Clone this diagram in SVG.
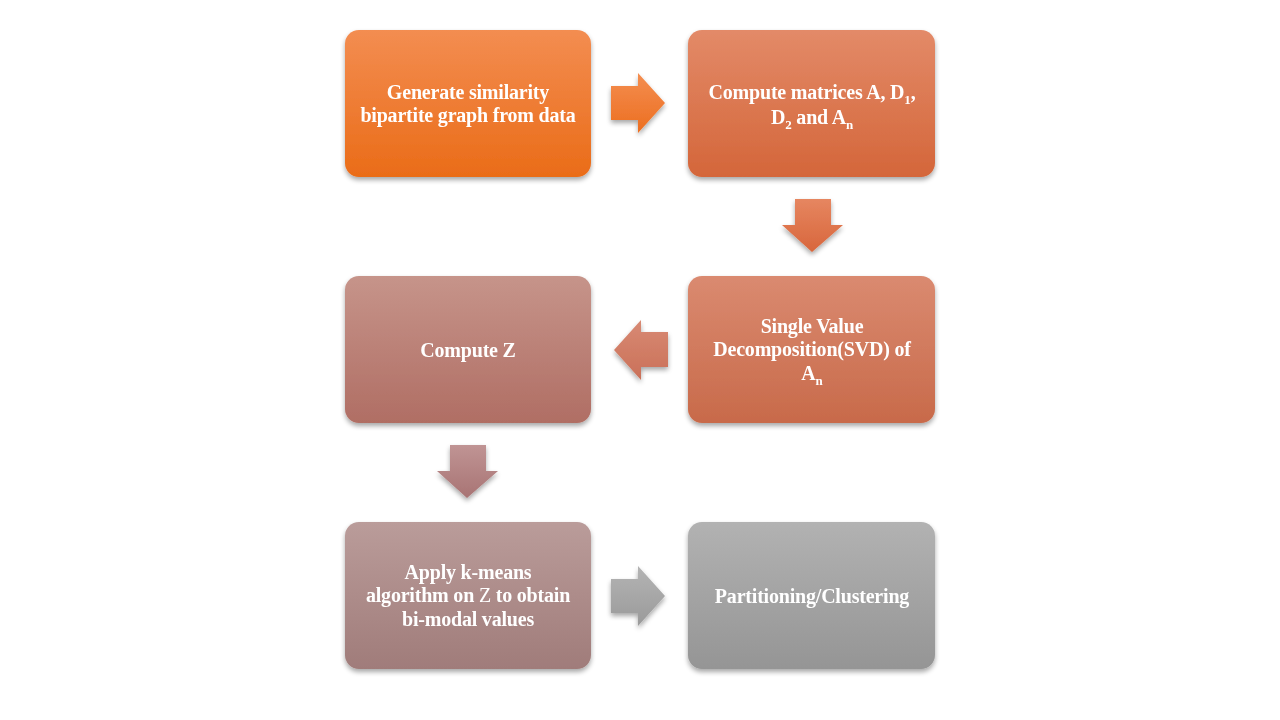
<svg xmlns="http://www.w3.org/2000/svg" width="1280" height="720" viewBox="0 0 1280 720">
<defs>
<style>
.t{font-family:"Liberation Serif","Times New Roman",serif;font-weight:bold;font-size:20px;fill:#fff;text-anchor:middle;letter-spacing:-0.2px}
.s{font-size:13px}
.n{font-weight:normal}
</style>
<filter id="sh" x="-10%" y="-10%" width="125%" height="130%">
<feGaussianBlur in="SourceAlpha" stdDeviation="2.5"/>
<feOffset dx="0" dy="3" result="b"/>
<feComponentTransfer><feFuncA type="linear" slope="0.35"/></feComponentTransfer>
<feMerge><feMergeNode/><feMergeNode in="SourceGraphic"/></feMerge>
</filter>
<linearGradient id="g1" x1="0" y1="0" x2="0" y2="1"><stop offset="0" stop-color="#F38D51"/><stop offset="1" stop-color="#EA6C18"/></linearGradient>
<linearGradient id="g2" x1="0" y1="0" x2="0" y2="1"><stop offset="0" stop-color="#E38A68"/><stop offset="1" stop-color="#D4663A"/></linearGradient>
<linearGradient id="g4" x1="0" y1="0" x2="0" y2="1"><stop offset="0" stop-color="#DA8A70"/><stop offset="1" stop-color="#C86A4A"/></linearGradient>
<linearGradient id="g3" x1="0" y1="0" x2="0" y2="1"><stop offset="0" stop-color="#C6948A"/><stop offset="1" stop-color="#B06E64"/></linearGradient>
<linearGradient id="g5" x1="0" y1="0" x2="0" y2="1"><stop offset="0" stop-color="#BA9C9A"/><stop offset="1" stop-color="#A07C7A"/></linearGradient>
<linearGradient id="g6" x1="0" y1="0" x2="0" y2="1"><stop offset="0" stop-color="#B2B2B2"/><stop offset="1" stop-color="#959595"/></linearGradient>
<linearGradient id="a1" x1="0" y1="0" x2="0" y2="1"><stop offset="0" stop-color="#F48E50"/><stop offset="1" stop-color="#EC6E20"/></linearGradient>
<linearGradient id="a2" x1="0" y1="0" x2="0" y2="1"><stop offset="0" stop-color="#E68660"/><stop offset="1" stop-color="#D8663C"/></linearGradient>
<linearGradient id="a3" x1="0" y1="0" x2="0" y2="1"><stop offset="0" stop-color="#D88A74"/><stop offset="1" stop-color="#CA7058"/></linearGradient>
<linearGradient id="a4" x1="0" y1="0" x2="0" y2="1"><stop offset="0" stop-color="#C09494"/><stop offset="1" stop-color="#A87474"/></linearGradient>
<linearGradient id="a5" x1="0" y1="0" x2="0" y2="1"><stop offset="0" stop-color="#B4B4B4"/><stop offset="1" stop-color="#9A9A9A"/></linearGradient>
</defs>
<rect width="1280" height="720" fill="#fff"/>
<g id="connectors" filter="url(#sh)">
<path d="M611 86 H638 V73 L665 103 L638 133 V120 H611 Z" fill="url(#a1)"/>
<path d="M795 199 H831 V225 H843 L812 252 L782 225 H795 Z" fill="url(#a2)"/>
<path d="M668 332 H641 V320 L614 350 L641 380 V367 H668 Z" fill="url(#a3)"/>
<path d="M450 445 H486 V471 H498 L467 498 L437 471 H450 Z" fill="url(#a4)"/>
<path d="M611 579 H638 V566 L665 596 L638 626 V613 H611 Z" fill="url(#a5)"/>
</g>
<g id="n1" filter="url(#sh)">
<rect x="345" y="30" width="246" height="147" rx="14" fill="url(#g1)"/>
<text class="t" x="468" y="99">Generate similarity</text>
<text class="t" x="468" y="122">bipartite graph from data</text>
</g>
<g id="n2" filter="url(#sh)">
<rect x="688" y="30" width="247" height="147" rx="14" fill="url(#g2)"/>
<text class="t" x="812" y="99">Compute matrices A, D<tspan class="s" dy="5">1</tspan><tspan dy="-5">,</tspan></text>
<text class="t" x="812" y="124">D<tspan class="s" dy="5">2</tspan><tspan dy="-5"> and A</tspan><tspan class="s" dy="5">n</tspan></text>
</g>
<g id="n4" filter="url(#sh)">
<rect x="688" y="276" width="247" height="147" rx="14" fill="url(#g4)"/>
<text class="t" x="812" y="333">Single Value</text>
<text class="t" x="812" y="356">Decomposition(SVD) of</text>
<text class="t" x="812" y="380">A<tspan class="s" dy="5">n</tspan></text>
</g>
<g id="n3" filter="url(#sh)">
<rect x="345" y="276" width="246" height="147" rx="14" fill="url(#g3)"/>
<text class="t" x="468" y="357">Compute Z</text>
</g>
<g id="n5" filter="url(#sh)">
<rect x="345" y="522" width="246" height="147" rx="14" fill="url(#g5)"/>
<text class="t" x="468" y="579">Apply k-means</text>
<text class="t" x="468" y="602">algorithm on <tspan class="n">Z</tspan> to obtain</text>
<text class="t" x="468" y="626">bi-modal values</text>
</g>
<g id="n6" filter="url(#sh)">
<rect x="688" y="522" width="247" height="147" rx="14" fill="url(#g6)"/>
<text class="t" x="812" y="603">Partitioning/Clustering</text>
</g>
</svg>
